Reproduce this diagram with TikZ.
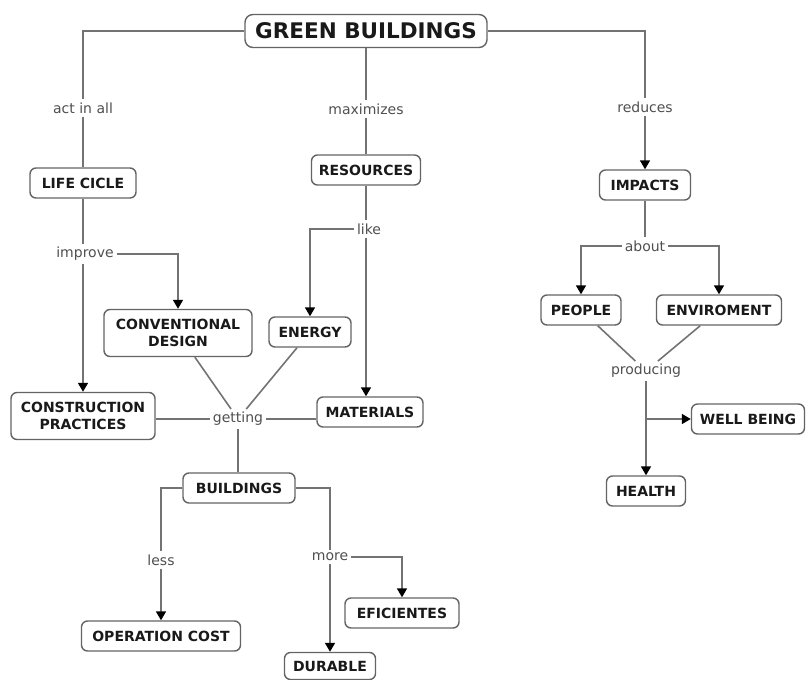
\documentclass[tikz,border=0pt]{standalone}
\usepackage{fontspec}
\setmainfont{DejaVu Sans}
\usetikzlibrary{arrows.meta}
\definecolor{linegray}{RGB}{115,115,115}
\definecolor{boxgray}{RGB}{100,100,100}
\definecolor{labelgray}{RGB}{80,80,80}
\definecolor{ink}{RGB}{25,25,25}
\tikzset{
  concept/.style={draw=boxgray, line width=1.4pt, rounded corners=6pt, fill=white,
    font=\fontsize{14}{17}\selectfont\bfseries, text=ink, align=center,
    minimum height=30pt, inner xsep=5pt, inner ysep=4pt},
  linkword/.style={fill=white, inner xsep=3pt, inner ysep=3pt,
    font=\fontsize{14}{16}\selectfont, text=labelgray},
  wire/.style={draw=linegray, line width=1.6pt},
  arrowed/.style={wire, -{Triangle[width=10pt,length=9pt,fill=black,color=black]}}
}
\begin{document}
\begin{tikzpicture}[x=1pt,y=-1pt]
\useasboundingbox (0,0) rectangle (806,680);

% concepts
\node[concept, font=\fontsize{21.5}{25}\selectfont\bfseries, minimum width=242pt, minimum height=33pt, rounded corners=8pt] (gb) at (366,31) {GREEN BUILDINGS};
\node[concept, minimum width=106pt] (life) at (83,183) {LIFE CICLE};
\node[concept, minimum width=109pt] (res) at (366,170) {RESOURCES};
\node[concept, minimum width=91pt] (imp) at (645,185) {IMPACTS};
\node[concept, minimum width=148pt, minimum height=47pt] (conv) at (178,333) {CONVENTIONAL\\DESIGN};
\node[concept, minimum width=82pt] (energy) at (310,332) {ENERGY};
\node[concept, minimum width=144pt, minimum height=47pt] (cons) at (83,416) {CONSTRUCTION\\PRACTICES};
\node[concept, minimum width=106pt] (mat) at (370,412) {MATERIALS};
\node[concept, minimum width=112pt] (bld) at (239,488) {BUILDINGS};
\node[concept, minimum width=159pt] (op) at (161,636) {OPERATION COST};
\node[concept, minimum width=91pt, minimum height=27pt] (dur) at (330,666) {DURABLE};
\node[concept, minimum width=114pt] (efic) at (402,613) {EFICIENTES};
\node[concept, minimum width=80pt] (people) at (581,310) {PEOPLE};
\node[concept, minimum width=125pt] (env) at (719,310) {ENVIROMENT};
\node[concept, minimum width=113pt] (well) at (748,419) {WELL BEING};
\node[concept, minimum width=79pt] (health) at (646,491) {HEALTH};

% linking words
\node[linkword] (act) at (83,108) {act in all};
\node[linkword] (max) at (366,109) {maximizes};
\node[linkword] (red) at (645,107) {reduces};
\node[linkword] (impr) at (85,254) {improve};
\node[linkword] (like) at (369,229) {like};
\node[linkword] (get) at (238,419) {getting};
\node[linkword] (less) at (161,560) {less};
\node[linkword] (more) at (330,557) {more};
\node[linkword] (about) at (645,246) {about};
\node[linkword] (prod) at (646,371) {producing};

% connectors from GREEN BUILDINGS
\draw[wire] (gb.west) -| (act.north);
\draw[wire] (act.south) -- (life.north);
\draw[wire] (gb.south) -- (max.north);
\draw[wire] (max.south) -- (res.north);
\draw[wire] (gb.east) -| (red.north);
\draw[arrowed] (red.south) -- (imp.north);

% life cycle branch
\draw[wire] (life.south) -- (life.south |- impr.north);
\draw[arrowed] (life.south |- impr.south) -- (cons.north);
\draw[arrowed] (impr.east) -| (conv.north);

% resources branch
\draw[wire] (res.south) -- (res.south |- like.north);
\draw[arrowed] (res.south |- like.south) -- (res.south |- mat.north);
\draw[arrowed] (like.west) -| (energy.north);

% getting
\draw[wire] (conv) -- (get);
\draw[wire] (energy) -- (get);
\draw[wire] (cons.east |- get.west) -- (get.west);
\draw[wire] (mat.west |- get.east) -- (get.east);
\draw[wire] (get.south) -- (get.south |- bld.north);

% buildings branch
\draw[wire] (bld.west) -| (less.north);
\draw[arrowed] (less.south) -- (op.north);
\draw[wire] (bld.east) -| (more.north);
\draw[arrowed] (more.south) -- (dur.north);
\draw[arrowed] (more.east) -| (efic.north);

% impacts branch
\draw[wire] (imp.south) -- (about.north);
\draw[arrowed] (about.west) -| (people.north);
\draw[arrowed] (about.east) -| (env.north);
\draw[wire] (people) -- (prod);
\draw[wire] (env) -- (prod);
\draw[arrowed] (prod.south) -- (health.north);
\coordinate (split) at (prod.south |- well.west);
\draw[arrowed] (split) -- (well.west);
\end{tikzpicture}
\end{document}
